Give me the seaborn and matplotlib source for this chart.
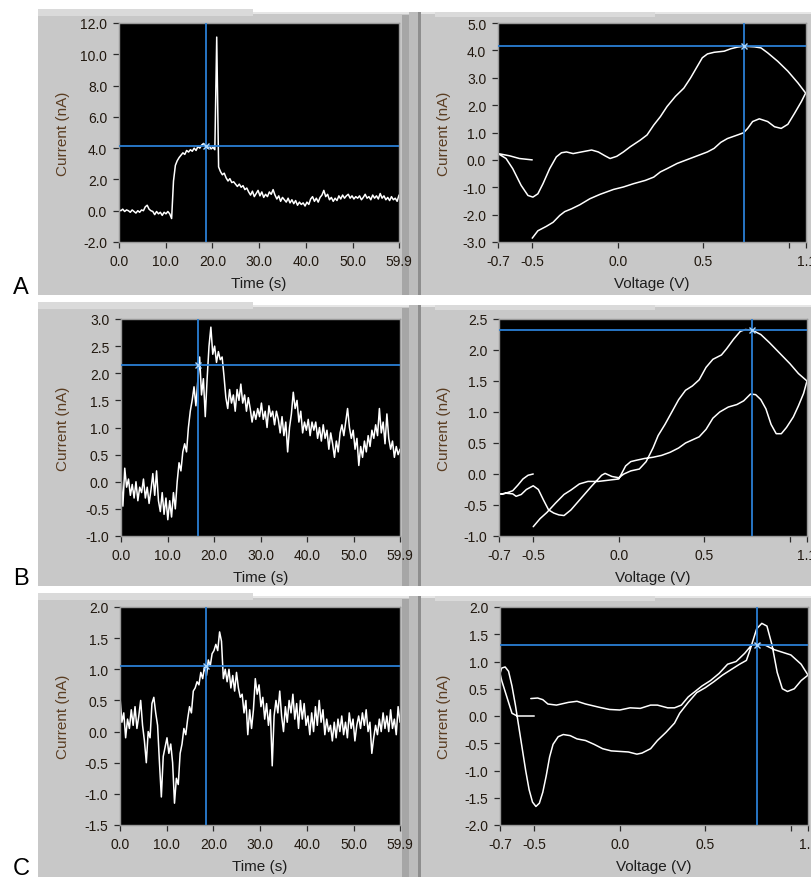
import numpy as np
import pandas as pd
import matplotlib
matplotlib.use('Agg')
import matplotlib.pyplot as plt
import seaborn as sns
from matplotlib.patches import Rectangle

sns.set_style('ticks')
plt.rcParams['font.family'] = ['Liberation Sans', 'DejaVu Sans']

# ── data ──────────────────────────────────────────────────────────────────────
# current vs time traces (nA), sampled evenly from 0 to 59.9 s
trace_a = [0.05, 0.0, 0.1, -0.05, 0.05, 0.0, -0.1, 0.05, -0.05, -0.15,
           0.0, -0.1, 0.05, 0.0, 0.25, 0.35, 0.1, 0.0, -0.05, -0.25,
           -0.05, -0.2, -0.1, -0.3, -0.1, -0.2, -0.05, -0.2, -0.5, 1.9,
           2.9, 3.2, 3.4, 3.55, 3.7, 3.6, 3.85, 3.75, 3.9, 3.8,
           4.0, 3.85, 4.1, 4.0, 4.2, 4.3, 4.1, 4.0, 4.15, 3.95,
           4.05, 3.9, 11.1, 2.8, 2.5, 2.3, 2.4, 2.1, 1.9, 2.05,
           1.8, 1.85, 1.7, 1.55, 1.7, 1.5, 1.6, 1.35, 1.45, 1.2,
           1.0, 1.25, 0.9, 1.1, 1.3, 0.95, 1.2, 0.85, 1.05, 0.9,
           1.2, 1.05, 1.35, 1.0, 0.75, 0.95, 0.6, 0.85, 0.7, 0.55,
           0.8, 0.5, 0.7, 0.45, 0.65, 0.35, 0.55, 0.4, 0.5, 0.3,
           0.55, 0.4, 0.75, 0.9, 0.6, 0.8, 0.55, 0.85, 1.0, 1.3,
           0.9, 1.05, 0.7, 0.85, 0.6, 0.8, 0.65, 0.95, 0.75, 1.0,
           0.8, 0.95, 1.05, 0.8, 0.95, 0.75, 0.9, 0.8, 0.95, 0.7,
           0.85, 1.05, 0.8, 0.9, 0.7, 1.0, 0.8, 0.95, 0.75, 1.1,
           0.8, 0.95, 0.7, 0.85, 0.65, 0.9, 0.7, 0.8, 0.6, 1.0]
trace_b = [0.1, -0.45, 0.25, -0.1, 0.05, -0.25, -0.05, -0.3, 0.0, -0.35,
           -0.1, -0.2, 0.05, -0.3, -0.1, -0.4, -0.15, 0.15, -0.25, 0.2,
           -0.35, -0.55, -0.2, -0.6, -0.3, -0.7, -0.35, -0.65, -0.2, -0.5,
           0.0, 0.35, 0.2, 0.55, 0.7, 0.55, 1.0, 1.3, 1.5, 1.75,
           1.4, 1.85, 2.3, 1.6, 1.9, 1.2, 1.9, 2.5, 2.85, 2.35,
           2.5, 2.2, 2.4, 2.25, 2.3, 1.95, 1.55, 1.35, 1.7, 1.45,
           1.6, 1.3, 1.7, 1.5, 1.8, 1.45, 1.6, 1.3, 1.55, 1.35,
           1.1, 1.3, 1.15, 1.35, 1.2, 1.45, 1.15, 1.3, 1.0, 1.4,
           1.2, 1.3, 1.05, 1.3, 1.15, 0.9, 1.2, 0.85, 1.1, 0.55,
           1.0, 1.25, 1.65, 1.35, 1.5, 1.1, 1.3, 0.9, 1.1, 0.95,
           1.15, 0.85, 1.1, 0.95, 1.1, 0.8, 1.0, 0.75, 1.05, 0.8,
           0.95, 0.6, 0.9, 0.7, 0.45, 0.75, 0.55, 0.9, 1.05, 0.85,
           1.1, 1.35, 1.0, 0.8, 0.95, 0.6, 0.8, 0.3, 0.65, 0.45,
           0.75, 0.55, 0.85, 0.65, 0.95, 0.8, 1.05, 0.85, 1.35, 0.9,
           1.1, 0.7, 1.25, 0.8, 0.6, 0.75, 0.45, 0.65, 0.5, 0.6]
trace_c = [0.55, 0.15, 0.3, -0.1, 0.2, 0.05, 0.35, 0.1, 0.4, 0.05,
           0.25, 0.5, 0.1, -0.15, -0.5, 0.0, -0.1, 0.45, 0.55, 0.3,
           0.1, -0.5, -1.05, -0.4, -0.25, -0.1, -0.35, -0.2, -0.5, -1.15,
           -0.75, -0.85, -0.35, -0.2, 0.05, -0.05, 0.2, 0.4, 0.3, 0.65,
           0.7, 0.8, 0.75, 0.95, 0.85, 1.05, 0.9, 1.15, 1.05, 1.25,
           1.3, 1.4, 1.3, 1.6, 1.45, 0.85, 1.0, 0.8, 1.0, 0.7,
           0.9, 0.65, 0.95, 0.7, 0.55, 0.6, 0.3, 0.5, -0.05, 0.35,
           0.05, 0.35, 0.85, 0.6, 0.75, 0.4, 0.55, 0.2, 0.45, 0.1,
           0.35, -0.55, 0.25, 0.5, 0.3, 0.65, 0.25, 0.0, 0.4, 0.15,
           0.5, 0.3, 0.6, 0.2, 0.45, 0.05, 0.5, 0.2, 0.45, 0.1,
           0.25, -0.05, 0.3, 0.0, 0.4, 0.1, 0.5, 0.15, 0.35, -0.05,
           0.2, 0.0, 0.1, -0.15, 0.15, -0.1, 0.2, 0.0, 0.25, -0.05,
           0.15, -0.1, 0.3, 0.05, 0.2, -0.15, 0.1, 0.25, 0.05, 0.3,
           0.1, 0.35, 0.0, 0.15, -0.35, -0.1, 0.1, -0.05, 0.2, 0.0,
           0.3, 0.05, 0.25, 0.0, 0.35, 0.05, 0.2, -0.05, 0.4, 0.15]

# cyclic voltammograms (V, nA) in sweep order: -0.5 -> -0.7 -> 1.1 -> -0.5
cv_a = [(-0.50, 0.00), (-0.575, 0.05), (-0.633, 0.15), (-0.70, 0.23),
        (-0.653, 0.05), (-0.614, -0.32), (-0.565, -0.93), (-0.525, -1.30),
        (-0.496, -1.36), (-0.467, -1.24), (-0.437, -0.87), (-0.398, -0.32),
        (-0.359, 0.11), (-0.329, 0.26), (-0.30, 0.29), (-0.261, 0.23),
        (-0.212, 0.29), (-0.153, 0.36), (-0.114, 0.29), (-0.075, 0.15),
        (-0.045, 0.05), (-0.006, 0.13), (0.033, 0.29), (0.073, 0.48),
        (0.131, 0.72), (0.171, 0.91), (0.21, 1.27), (0.249, 1.58),
        (0.288, 1.95), (0.337, 2.32), (0.386, 2.62), (0.425, 2.99),
        (0.465, 3.42), (0.494, 3.73), (0.524, 3.87), (0.563, 3.93),
        (0.622, 3.97), (0.661, 4.06), (0.70, 4.12), (0.735, 4.15),
        (0.798, 4.13), (0.837, 4.09), (0.876, 3.91), (0.935, 3.60),
        (0.994, 3.24), (1.053, 2.81), (1.098, 2.44),
        (1.073, 2.13), (1.033, 1.70), (0.994, 1.30), (0.955, 1.15),
        (0.916, 1.21), (0.876, 1.40), (0.827, 1.50), (0.788, 1.40),
        (0.759, 1.15), (0.735, 0.99), (0.70, 0.91), (0.641, 0.78),
        (0.602, 0.64), (0.563, 0.42), (0.524, 0.29), (0.465, 0.15),
        (0.406, 0.01), (0.347, -0.13), (0.288, -0.32), (0.249, -0.44),
        (0.21, -0.63), (0.161, -0.75), (0.092, -0.87), (0.033, -0.99),
        (-0.025, -1.08), (-0.104, -1.26), (-0.163, -1.42), (-0.222, -1.64),
        (-0.271, -1.79), (-0.31, -1.89), (-0.339, -2.03), (-0.378, -2.28),
        (-0.418, -2.43), (-0.467, -2.59), (-0.50, -2.86)]
cv_b = [(-0.50, 0.00), (-0.53, -0.02), (-0.56, -0.08), (-0.59, -0.18),
        (-0.62, -0.27), (-0.66, -0.31), (-0.70, -0.33),
        (-0.66, -0.31), (-0.62, -0.32), (-0.60, -0.36), (-0.57, -0.33),
        (-0.54, -0.25), (-0.50, -0.19), (-0.47, -0.25), (-0.44, -0.42),
        (-0.41, -0.58), (-0.38, -0.63), (-0.35, -0.66), (-0.32, -0.67),
        (-0.28, -0.58), (-0.22, -0.39), (-0.16, -0.20), (-0.10, -0.02),
        (-0.08, 0.01), (-0.04, -0.04), (0.00, -0.06), (0.03, 0.00),
        (0.07, 0.05), (0.12, 0.08), (0.16, 0.20), (0.20, 0.42),
        (0.23, 0.62), (0.27, 0.80), (0.31, 1.00), (0.35, 1.20),
        (0.39, 1.35), (0.43, 1.42), (0.47, 1.52), (0.51, 1.72),
        (0.55, 1.85), (0.60, 1.92), (0.63, 2.02), (0.67, 2.17),
        (0.71, 2.30), (0.74, 2.33), (0.78, 2.32), (0.83, 2.25),
        (0.88, 2.12), (0.94, 1.95), (1.00, 1.78), (1.05, 1.62), (1.10, 1.50),
        (1.08, 1.30), (1.05, 1.10), (1.02, 0.92), (0.98, 0.75),
        (0.95, 0.65), (0.92, 0.65), (0.89, 0.80), (0.86, 1.05),
        (0.83, 1.20), (0.80, 1.28), (0.77, 1.29), (0.73, 1.18),
        (0.69, 1.12), (0.64, 1.08), (0.59, 1.00), (0.55, 0.90),
        (0.51, 0.72), (0.47, 0.60), (0.43, 0.55), (0.39, 0.50),
        (0.35, 0.42), (0.30, 0.35), (0.25, 0.30), (0.20, 0.27),
        (0.15, 0.25), (0.10, 0.22), (0.07, 0.20), (0.04, 0.13),
        (0.00, -0.08), (-0.06, -0.10), (-0.12, -0.12), (-0.18, -0.12),
        (-0.23, -0.16), (-0.28, -0.26), (-0.32, -0.33), (-0.37, -0.47),
        (-0.42, -0.62), (-0.46, -0.72), (-0.50, -0.85)]
cv_c = [(-0.50, 0.00), (-0.55, 0.00), (-0.60, 0.00), (-0.63, 0.05),
        (-0.65, 0.25), (-0.67, 0.45), (-0.69, 0.65), (-0.70, 0.78),
        (-0.69, 0.88), (-0.67, 0.90), (-0.65, 0.82), (-0.63, 0.55),
        (-0.61, 0.20), (-0.59, -0.20), (-0.57, -0.60), (-0.55, -1.00),
        (-0.53, -1.35), (-0.51, -1.58), (-0.49, -1.66), (-0.47, -1.60),
        (-0.45, -1.40), (-0.43, -1.10), (-0.41, -0.75), (-0.39, -0.52),
        (-0.36, -0.38), (-0.33, -0.34), (-0.29, -0.36), (-0.25, -0.42),
        (-0.20, -0.45), (-0.15, -0.52), (-0.10, -0.60), (-0.05, -0.64),
        (0.00, -0.65), (0.05, -0.66), (0.10, -0.70), (0.13, -0.68),
        (0.18, -0.60), (0.22, -0.45), (0.27, -0.30), (0.32, -0.13),
        (0.35, 0.05), (0.40, 0.25), (0.45, 0.43), (0.50, 0.52),
        (0.55, 0.63), (0.60, 0.75), (0.65, 0.85), (0.70, 0.95),
        (0.74, 1.02), (0.76, 1.20), (0.78, 1.40), (0.80, 1.60),
        (0.83, 1.70), (0.86, 1.65), (0.89, 1.30), (0.92, 0.80),
        (0.95, 0.50), (0.98, 0.45), (1.02, 0.50), (1.06, 0.65), (1.10, 0.75),
        (1.06, 0.95), (1.00, 1.12), (0.95, 1.17), (0.90, 1.22),
        (0.85, 1.30), (0.80, 1.32), (0.77, 1.30), (0.73, 1.15),
        (0.68, 1.00), (0.63, 0.95), (0.58, 0.78), (0.53, 0.65),
        (0.48, 0.55), (0.44, 0.45), (0.40, 0.35), (0.36, 0.20),
        (0.32, 0.15), (0.28, 0.15), (0.22, 0.20), (0.18, 0.20),
        (0.12, 0.14), (0.06, 0.15), (0.00, 0.11), (-0.06, 0.12),
        (-0.12, 0.16), (-0.20, 0.22), (-0.25, 0.27), (-0.30, 0.25),
        (-0.37, 0.20), (-0.42, 0.22), (-0.45, 0.30), (-0.48, 0.33),
        (-0.52, 0.32)]

# cursor positions
cursor_t = [18.6, 16.6, 18.3]
cursor_t_i = [4.16, 2.15, 1.05]
cursor_v = [0.735, 0.778, 0.80]
cursor_v_i = [4.17, 2.33, 1.30]

# axis ranges
time_ylims = [(-2.0, 12.0, 2.0), (-1.0, 3.0, 0.5), (-1.5, 2.0, 0.5)]
cv_ylims = [(-3.0, 5.0, 1.0), (-1.0, 2.5, 0.5), (-2.0, 2.0, 0.5)]
time_ticks = [0.0, 10.0, 20.0, 30.0, 40.0, 50.0, 59.9]
volt_ticks = [-0.7, -0.5, 0.0, 0.5, 1.0, 1.1]
volt_labels = ['-0.7', '-0.5', '0.0', '0.5', '', '1.1']
panel_letters = ['A', 'B', 'C']

# ── layout (pixels) ───────────────────────────────────────────────────────────
W, H = 811, 878
fig = plt.figure(figsize=(W / 100, H / 100), dpi=100, facecolor='white')

GRAY = '#c8c8c8'
BLUE = '#2b7fd4'


def rect(x0, y0, x1, y1, color, z=-2):
    # background pieces sit below the axes (zorder 0)
    fig.add_artist(Rectangle((x0 / W, 1 - y1 / H), (x1 - x0) / W, (y1 - y0) / H,
                             transform=fig.transFigure, facecolor=color,
                             edgecolor='none', zorder=z))


def make_ax(l, t, r, b):
    ax = fig.add_axes([l / W, 1 - b / H, (r - l) / W, (b - t) / H])
    ax.set_facecolor('black')
    for s in ax.spines.values():
        s.set_color('#9a9a9a')
        s.set_linewidth(1.0)
    ax.tick_params(axis='both', direction='out', length=4.5, width=0.9,
                   color='#2a2a2a', labelsize=10, labelcolor='#21180f')
    ax.tick_params(axis='y', pad=4)
    ax.tick_params(axis='x', pad=4)
    return ax


row_tops = [10, 303, 594]
row_bottoms = [296, 587, 878]
left_boxes = [(119, 24, 399, 243), (121, 320, 400, 537), (120, 608, 400, 826)]
right_boxes = [(498, 24, 806, 243), (499, 320, 807, 537), (500, 608, 808, 826)]
letter_base = [294, 585, 875]

for k in range(3):
    top, bot = row_tops[k], row_bottoms[k]
    # LabVIEW style gray front panels
    rect(38, top + 3, 811, bot, GRAY)
    rect(38, top, 253, top + 7, '#dadada', -1)
    rect(253, top + 3, 811, top + 5, '#e6e6e6', -1)
    rect(402, top + 6, 409, bot, '#a6a6a6', -1)
    rect(409, top + 3, 418, bot, '#bcbcbc', -1)
    rect(418, top + 3, 421, bot, '#8e8e8e', -1)
    rect(435, top + 3, 655, top + 8, '#dadada', -1)
    fig.text(13 / W, 1 - letter_base[k] / H, panel_letters[k], fontsize=17,
             color='black', va='baseline', ha='left')

    # ── current vs time ──
    l, t, r, b = left_boxes[k]
    ax = make_ax(l, t, r, b)
    vals = [trace_a, trace_b, trace_c][k]
    df = pd.DataFrame({'time': np.linspace(0, 59.9, len(vals)), 'current': vals})
    sns.lineplot(data=df, x='time', y='current', ax=ax, color='white',
                 linewidth=1.1, estimator=None, sort=False)
    y0, y1, step = time_ylims[k]
    ax.set_xlim(0, 59.9)
    ax.set_ylim(y0, y1)
    ax.set_xticks(time_ticks)
    ax.set_xticklabels([f'{v:.1f}' for v in time_ticks])
    yt = np.arange(y0, y1 + step / 2, step)
    ax.set_yticks(yt)
    ax.set_yticklabels([f'{v:.1f}' for v in yt])
    ax.axvline(cursor_t[k], color=BLUE, lw=1.3, zorder=3)
    ax.axhline(cursor_t_i[k], color=BLUE, lw=1.3, zorder=3)
    ax.plot(cursor_t[k], cursor_t_i[k], marker='x', ms=5, mew=1,
            color='#a9d6ff', zorder=4)
    ax.set_xlabel('Time (s)', fontsize=11, color='#1e1e1e')
    ax.set_ylabel('Current (nA)', fontsize=11, color='#5a3d22')
    ax.xaxis.set_label_coords(0.5, -34 / (b - t))
    ax.yaxis.set_label_coords(-(l - 70) / (r - l), 0.5)

    # ── cyclic voltammogram ──
    l, t, r, b = right_boxes[k]
    ax = make_ax(l, t, r, b)
    pts = [cv_a, cv_b, cv_c][k]
    dcv = pd.DataFrame(pts, columns=['voltage', 'current'])
    sns.lineplot(data=dcv, x='voltage', y='current', ax=ax, color='white',
                 linewidth=1.1, estimator=None, sort=False)
    y0, y1, step = cv_ylims[k]
    ax.set_xlim(-0.7, 1.1)
    ax.set_ylim(y0, y1)
    ax.set_xticks(volt_ticks)
    ax.set_xticklabels(volt_labels)
    yt = np.arange(y0, y1 + step / 2, step)
    ax.set_yticks(yt)
    ax.set_yticklabels([f'{v:.1f}' for v in yt])
    ax.axvline(cursor_v[k], color=BLUE, lw=1.3, zorder=3)
    ax.axhline(cursor_v_i[k], color=BLUE, lw=1.3, zorder=3)
    ax.plot(cursor_v[k], cursor_v_i[k], marker='x', ms=5, mew=1,
            color='#a9d6ff', zorder=4)
    ax.set_xlabel('Voltage (V)', fontsize=11, color='#1e1e1e')
    ax.set_ylabel('Current (nA)', fontsize=11, color='#5a3d22')
    ax.xaxis.set_label_coords(0.5, -34 / (b - t))
    ax.yaxis.set_label_coords(-(l - 451) / (r - l), 0.5)

fig.savefig('out.png', dpi=100, facecolor='white')
plt.close(fig)
